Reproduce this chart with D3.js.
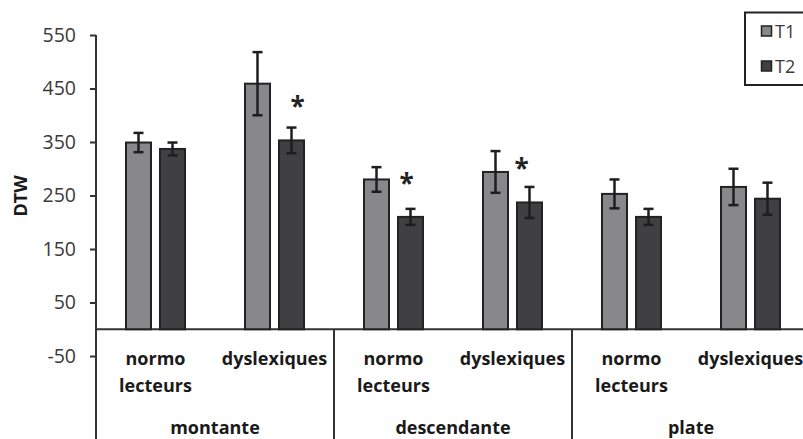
<!DOCTYPE html>
<html>
<head>
<meta charset="utf-8">
<script src="https://cdn.jsdelivr.net/npm/d3@7"></script>
<style>
  html, body { margin: 0; padding: 0; background: #fff; }
  svg { display: block; }
  text { font-family: "Open Sans", "Noto Sans", sans-serif; }
</style>
</head>
<body>
<div id="chart"></div>
<script>
// ---- data ----
const groups = ["montante", "descendante", "plate"];
const subgroups = [["normo", "lecteurs"], ["dyslexiques"]];
const seriesNames = ["T1", "T2"];
const t1Values = [349, 459, 280, 294, 253, 266];
const t1Errors = [18, 59, 23, 39, 27, 34];
const t2Values = [337, 353, 210, 237, 210, 244];
const t2Errors = [12, 24, 15, 29, 15, 30];
const yTicks = [550, 450, 350, 250, 150, 50, -50];
const starIndex = [1, 2, 3];          // which category gets an asterisk
const starValue = [421, 277, 305];    // value level of the asterisk
const starDx = [6, -4, -8];

// ---- layout ----
const W = 803, H = 439;
const left = 96, groupW = 238;
const colors = {T1: "#88888a", T2: "#404042"};

const svg = d3.select("#chart").append("svg").attr("width", W).attr("height", H);

const y = d3.scaleLinear().domain([-50, 550]).range([356, 35]);

const cats = [];
groups.forEach((g, gi) => subgroups.forEach((s, si) => cats.push(gi + "-" + si)));

const xGroup = d3.scaleBand().domain(groups).range([left, left + groupW * groups.length]).padding(0);
const xCat = d3.scaleBand().domain(cats).range([left, left + groupW * groups.length]).padding(0);
const xSeries = d3.scaleBand().domain(seriesNames).range([-30.5, 30.5]).paddingInner(7 / 34).paddingOuter(0);

const rows = cats.map((c, i) => ({cat: c, values: [
  {s: "T1", v: t1Values[i], e: t1Errors[i]},
  {s: "T2", v: t2Values[i], e: t2Errors[i]}
]}));

// y axis
const yAxis = d3.axisLeft(y).tickValues(yTicks).tickSize(6).tickPadding(14).tickFormat(d => String(d));
const ga = svg.append("g").attr("transform", `translate(${left},0)`).call(yAxis);
ga.select(".domain").remove();
ga.selectAll(".tick line").attr("stroke", "#333").attr("stroke-width", 2);
ga.selectAll(".tick text").attr("fill", "#3a3a3a").style("font-size", "19.5px").style("font-family", "'Open Sans', sans-serif");

// vertical axis line (to bottom)
svg.append("line").attr("x1", left).attr("x2", left).attr("y1", y(550)).attr("y2", H)
  .attr("stroke", "#333").attr("stroke-width", 2);

// baseline
svg.append("line").attr("x1", left).attr("x2", W).attr("y1", y(0)).attr("y2", y(0))
  .attr("stroke", "#333").attr("stroke-width", 2);

// group separators
groups.slice(1).forEach(g => {
  svg.append("line").attr("x1", xGroup(g)).attr("x2", xGroup(g)).attr("y1", y(0)).attr("y2", H)
    .attr("stroke", "#333").attr("stroke-width", 2);
});

// bars
const gc = svg.selectAll("g.cat").data(rows).join("g").attr("class", "cat")
  .attr("transform", d => `translate(${xCat(d.cat) + xCat.bandwidth() / 2},0)`);

gc.selectAll("rect").data(d => d.values).join("rect")
  .attr("x", d => xSeries(d.s) + 1)
  .attr("width", xSeries.bandwidth() - 2)
  .attr("y", d => y(d.v))
  .attr("height", d => y(0) - y(d.v))
  .attr("fill", d => colors[d.s])
  .attr("stroke", "#222")
  .attr("stroke-width", 2);

// error bars
const eb = gc.selectAll("g.err").data(d => d.values).join("g").attr("class", "err")
  .attr("transform", d => `translate(${xSeries(d.s) + xSeries.bandwidth() / 2},0)`);
eb.append("line").attr("x1", 0).attr("x2", 0).attr("y1", d => y(d.v + d.e)).attr("y2", d => y(d.v - d.e))
  .attr("stroke", "#1e1e1e").attr("stroke-width", 2.5);
eb.append("line").attr("x1", -5).attr("x2", 5).attr("y1", d => y(d.v + d.e)).attr("y2", d => y(d.v + d.e))
  .attr("stroke", "#1e1e1e").attr("stroke-width", 2.5);
eb.append("line").attr("x1", -5).attr("x2", 5).attr("y1", d => y(d.v - d.e)).attr("y2", d => y(d.v - d.e))
  .attr("stroke", "#1e1e1e").attr("stroke-width", 2.5);

// asterisks
starIndex.forEach((ci, k) => {
  const cx = xCat(cats[ci]) + xCat.bandwidth() / 2 + xSeries("T2") + xSeries.bandwidth() / 2 + starDx[k];
  svg.append("text").attr("x", cx).attr("y", y(starValue[k]) + 12)
    .attr("text-anchor", "middle").attr("fill", "#222")
    .style("font-size", "26px").style("font-weight", "bold").text("*");
});

// category labels
cats.forEach((c, i) => {
  const si = i % 2;
  const cx = xCat(c) + xCat.bandwidth() / 2;
  subgroups[si].forEach((line, li) => {
    svg.append("text").attr("x", cx).attr("y", 365 + li * 27)
      .attr("text-anchor", "middle").attr("fill", "#1a1a1a")
      .style("font-size", "18px").style("font-weight", "bold").text(line);
  });
});
groups.forEach(g => {
  svg.append("text").attr("x", xGroup(g) + xGroup.bandwidth() / 2).attr("y", 434)
    .attr("text-anchor", "middle").attr("fill", "#1a1a1a")
    .style("font-size", "18px").style("font-weight", "bold").text(g);
});

// y title
svg.append("text").attr("transform", "translate(27,196) rotate(-90)")
  .attr("text-anchor", "middle").attr("fill", "#1a1a1a")
  .style("font-size", "18px").style("font-weight", "bold").text("DTW");

// legend
const lg = svg.append("g");
lg.append("rect").attr("x", 745).attr("y", 12.5).attr("width", 80).attr("height", 72.5)
  .attr("fill", "#fff").attr("stroke", "#222").attr("stroke-width", 2);
seriesNames.forEach((s, i) => {
  const cy = 31.5 + i * 35;
  lg.append("rect").attr("x", 761.5).attr("y", cy - 5.5).attr("width", 10).attr("height", 10)
    .attr("fill", colors[s]).attr("stroke", "#222").attr("stroke-width", 1.5);
  lg.append("text").attr("x", 775).attr("y", cy + 6.5).attr("fill", "#3a3a3a")
    .style("font-size", "18px").text(s);
});
</script>
</body>
</html>
